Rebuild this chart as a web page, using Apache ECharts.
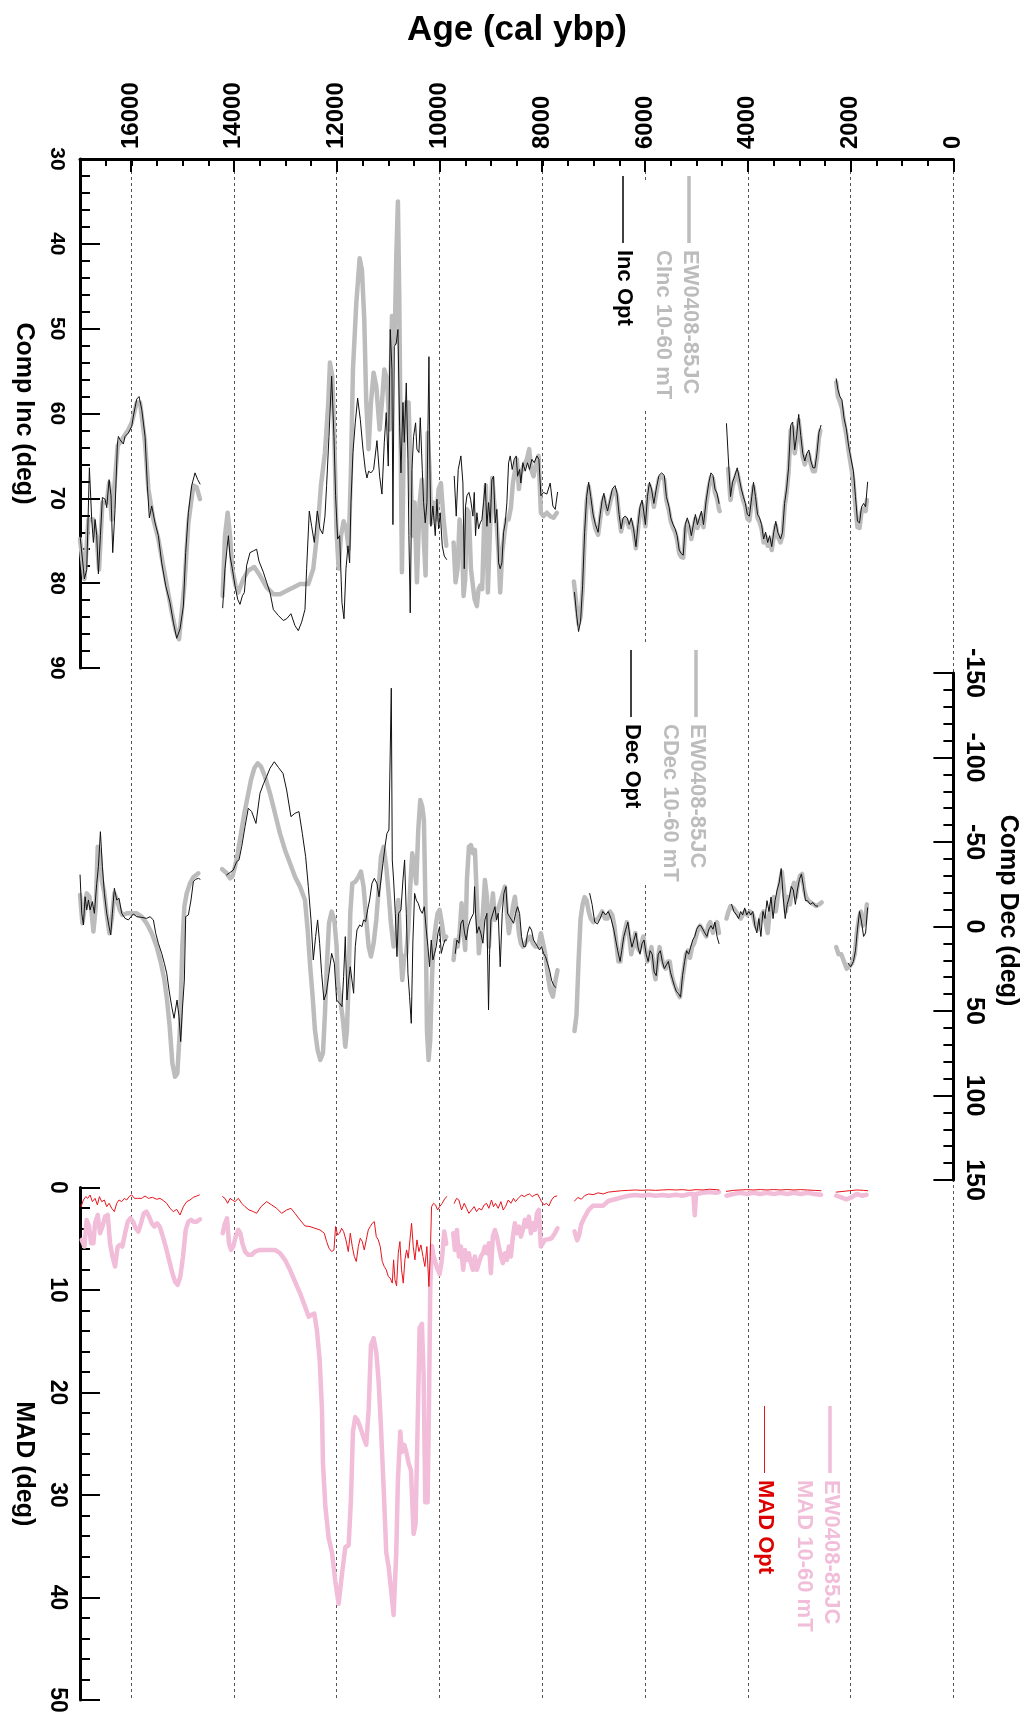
<!DOCTYPE html>
<html>
<head>
<meta charset="utf-8">
<script src="https://cdn.jsdelivr.net/npm/echarts@6/dist/echarts.min.js"></script>
<style>
html,body{margin:0;padding:0;background:#fff;}
#chart{width:1027px;height:1718px;}
</style>
</head>
<body>
<div id="chart"></div>
<script>
// ---------------- DATA (age in cal ybp, value) ----------------
// Inclination, EW0408-85JC CInc 10-60 mT (gray, thick) — segments
const incClean = [
 [[16999,74.8],[16914,79.5],[16836,72.5],[16739,72.5],[16674,74.8],[16629,78.4],[16564,70.5],[16480,70.5],[16434,68.2],[16383,72.5],[16266,63.8],[16058,61.9],[15993,61.1],[15896,58.7],[15831,58.7],[15734,63.4],[15669,68.9],[15572,72.5],[15475,74.8],[15345,79.1],[15215,83.4],[15137,85.6],[15073,86.6],[14969,80.3],[14891,72.9],[14794,68.5],[14729,68.7],[14664,70.1]],
 [[14223,81.5],[14178,74.4],[14126,71.7],[14080,74.4],[14035,78.4],[13970,80.3],[13918,81.1],[13821,79.5],[13724,78.5],[13607,78.1],[13497,79.1],[13367,80.5],[13237,81.3],[13108,81.3],[12978,80.9],[12848,80.5],[12718,80.1],[12556,80.1],[12459,78.3],[12375,73.6],[12310,68.5],[12232,64.6],[12167,58.7],[12135,54.0],[12090,55.6],[12050,62.7],[12010,73.5],[11966,78.3],[11920,74.4],[11869,72.7],[11817,73.6],[11771,76.0],[11726,66.6],[11687,54.8],[11622,47.0],[11557,41.7],[11512,43.1],[11467,48.9],[11428,58.7],[11382,64.2],[11337,58.7],[11285,55.2],[11233,56.8],[11168,61.9],[11123,58.7],[11077,54.8],[11026,56.0],[10974,61.9],[10928,48.5],[10876,51.7],[10844,41.5],[10812,35.0],[10786,46.2],[10766,58.7],[10734,78.7],[10701,64.6],[10656,58.7],[10604,58.7],[10572,65.8],[10526,74.4],[10487,70.5],[10442,79.9],[10390,70.5],[10345,67.8],[10312,74.4],[10273,79.1],[10234,62.3],[10196,66.6],[10163,72.9],[10118,70.5],[10066,72.5],[10020,68.9],[9975,68.2],[9923,72.5],[9871,75.6]],
 [[9729,75.2],[9690,79.9],[9651,78.3],[9612,72.5],[9566,74.4],[9534,81.5],[9502,79.5],[9469,71.3],[9430,71.7],[9391,78.3],[9352,80.3],[9320,81.9],[9275,82.7],[9242,80.7],[9210,80.3],[9171,80.7],[9132,72.5],[9100,68.5],[9061,81.1],[9015,72.9],[8976,67.6],[8937,70.5],[8886,73.3],[8853,76.4],[8821,81.1],[8782,76.4],[8743,74.4],[8704,72.5],[8658,72.5],[8613,71.1],[8574,68.2],[8529,66.6],[8496,65.4],[8457,68.9],[8419,67.0],[8367,66.2],[8302,65.4],[8256,64.2],[8218,66.6],[8172,67.4],[8120,65.8],[8075,65.0],[8029,71.7],[7978,72.1],[7913,71.7],[7848,72.1],[7783,72.3],[7718,71.7]],
 [[7388,79.8],[7336,82.6],[7296,84.8],[7257,84.0],[7217,80.8],[7178,74.6],[7138,70.4],[7099,68.6],[7059,70.2],[7013,72.3],[6967,73.6],[6915,74.3],[6875,72.4],[6836,70.6],[6803,69.9],[6770,70.9],[6731,71.8],[6685,70.6],[6639,69.4],[6586,69.0],[6547,69.8],[6507,72.2],[6468,73.9],[6428,72.8],[6389,72.4],[6350,72.7],[6310,73.4],[6271,72.8],[6225,74.0],[6179,75.9],[6139,73.6],[6100,71.5],[6060,70.7],[6028,71.9],[5995,73.3],[5955,70.3],[5916,68.5],[5876,69.3],[5830,71.0],[5784,69.4],[5732,67.7],[5679,67.4],[5627,67.8],[5587,70.2],[5535,71.5],[5502,72.7],[5456,73.5],[5416,74.0],[5377,74.9],[5337,76.5],[5298,76.9],[5258,77.0],[5219,73.6],[5180,72.8],[5140,73.6],[5101,74.8],[5061,73.5],[5022,72.4],[4982,73.5],[4943,72.8],[4904,72.0],[4864,73.4],[4811,70.6],[4759,68.6],[4719,67.5],[4680,67.7],[4641,69.3],[4601,70.0],[4562,71.3],[4548,71.5]],
 [[4385,66.5],[4338,70.2],[4299,68.6],[4253,67.7],[4207,66.9],[4167,68.1],[4128,69.3],[4088,70.3],[4049,71.0],[4010,72.4],[3970,72.6],[3924,70.3],[3891,68.6],[3852,70.2],[3812,72.3],[3773,72.8],[3733,73.6],[3694,75.2],[3655,74.5],[3615,75.6],[3576,74.9],[3536,76.1],[3497,74.5],[3457,73.2],[3418,74.5],[3365,75.2],[3326,74.4],[3286,71.0],[3247,69.3],[3208,66.9],[3168,62.0],[3129,61.6],[3089,64.7],[3050,63.1],[3011,60.8],[2971,63.0],[2932,65.1],[2892,66.0],[2853,65.1],[2813,64.8],[2774,66.0],[2734,66.8],[2695,66.8],[2656,65.2],[2616,62.8],[2590,62.0]],
 [[2281,56.3],[2248,58.0],[2209,58.6],[2169,59.4],[2130,61.0],[2084,62.5],[2038,64.5],[1985,66.5],[1946,68.0],[1906,71.0],[1867,73.4],[1827,73.5],[1788,71.6],[1748,71.2],[1709,71.5],[1683,70.2]]
];
// Inclination, Inc Opt (black, thin)
const incOpt = [
 [[16999,74.4],[16914,79.5],[16869,78.4],[16817,66.4],[16772,72.5],[16739,75.2],[16707,72.5],[16674,74.4],[16642,78.9],[16603,74.4],[16564,69.9],[16512,70.1],[16480,71.1],[16434,67.8],[16396,69.7],[16363,76.4],[16318,71.3],[16272,63.6],[16253,62.7],[16220,63.1],[16188,62.9],[16156,63.6],[16123,62.7],[16058,62.3],[15993,61.5],[15961,60.3],[15896,58.3],[15851,58.0],[15799,59.5],[15734,62.7],[15689,68.5],[15650,72.3],[15604,70.9],[15539,72.9],[15475,74.4],[15410,77.6],[15332,80.3],[15248,82.3],[15183,84.6],[15118,86.5],[15053,85.4],[14988,82.7],[14943,76.4],[14891,71.7],[14826,68.5],[14761,67.0],[14709,67.8],[14664,68.3]],
 [[14223,82.9],[14178,78.3],[14113,74.4],[14080,76.8],[14035,78.3],[13983,80.3],[13931,81.9],[13886,82.5],[13840,81.5],[13801,81.1],[13756,77.9],[13691,76.4],[13626,76.2],[13562,76.0],[13516,77.4],[13432,78.7],[13367,79.9],[13302,81.1],[13237,83.1],[13140,83.8],[13043,84.4],[12978,84.2],[12894,83.6],[12816,85.0],[12751,85.6],[12686,84.6],[12621,83.1],[12589,78.3],[12537,71.5],[12491,73.3],[12440,75.2],[12381,71.5],[12329,73.6],[12277,74.2],[12232,72.1],[12200,68.5],[12154,62.7],[12102,55.6],[12057,62.7],[12025,69.7],[11985,74.8],[11946,74.4],[11901,82.3],[11862,84.2],[11823,78.3],[11784,75.6],[11752,77.6],[11726,70.5],[11687,64.6],[11642,61.1],[11596,58.2],[11544,60.7],[11492,64.2],[11447,66.6],[11415,67.6],[11382,66.8],[11337,67.0],[11285,66.6],[11220,63.2],[11168,67.4],[11123,69.5],[11077,63.4],[11039,59.9],[11000,66.2],[10961,50.1],[10928,54.8],[10909,73.1],[10883,52.1],[10844,51.7],[10812,50.1],[10779,61.5],[10753,67.0],[10714,58.7],[10688,63.4],[10649,56.4],[10617,65.4],[10598,74.4],[10572,83.5],[10539,66.6],[10507,62.7],[10468,61.1],[10442,64.2],[10403,64.6],[10377,60.5],[10338,66.6],[10312,70.5],[10280,72.9],[10247,70.5],[10208,53.3],[10189,66.6],[10170,73.3],[10131,70.9],[10085,74.4],[10053,70.1],[10020,73.6],[9988,71.7],[9949,75.6],[9910,76.8],[9865,77.2]],
 [[9716,67.4],[9677,72.1],[9638,66.6],[9586,65.0],[9547,68.2],[9521,78.3],[9495,70.9],[9469,69.7],[9430,69.3],[9398,70.1],[9352,72.1],[9326,69.3],[9301,74.4],[9275,71.7],[9242,73.6],[9210,72.9],[9177,72.5],[9145,70.5],[9112,68.2],[9080,73.3],[9048,70.5],[9015,72.9],[8983,67.8],[8950,67.4],[8918,72.9],[8886,71.3],[8853,77.6],[8821,78.3],[8788,77.6],[8756,74.0],[8723,72.9],[8691,70.5],[8658,65.8],[8626,65.0],[8587,66.6],[8548,65.4],[8509,65.0],[8483,67.4],[8444,66.6],[8419,68.2],[8380,65.8],[8334,66.8],[8289,65.8],[8250,66.6],[8205,65.4],[8159,65.8],[8107,65.0],[8068,65.4],[8029,69.7],[7978,69.3],[7913,69.5],[7848,68.2],[7796,70.9],[7750,71.3],[7705,69.3]],
 [[7375,81.1],[7336,83.6],[7296,85.7],[7257,84.5],[7217,80.3],[7178,74.0],[7138,69.8],[7099,68.1],[7059,69.8],[7013,71.9],[6967,73.1],[6915,74.0],[6875,71.9],[6836,70.2],[6803,69.4],[6770,70.6],[6731,71.5],[6685,70.2],[6639,68.9],[6586,68.5],[6547,69.4],[6507,71.9],[6468,73.6],[6428,72.3],[6389,72.1],[6350,72.3],[6310,73.1],[6271,72.3],[6225,73.6],[6179,75.7],[6139,73.1],[6100,71.0],[6060,70.2],[6028,71.5],[5995,73.1],[5955,69.8],[5916,68.1],[5876,68.9],[5830,70.6],[5784,68.9],[5732,67.3],[5679,67.0],[5627,67.3],[5587,69.8],[5535,71.0],[5502,72.3],[5456,73.1],[5416,73.6],[5377,74.4],[5337,76.1],[5298,76.5],[5258,76.7],[5219,73.1],[5180,72.3],[5140,73.1],[5101,74.4],[5061,73.1],[5022,71.9],[4982,73.1],[4943,72.3],[4904,71.5],[4864,73.1],[4811,70.2],[4759,68.1],[4719,67.0],[4680,67.3],[4641,68.9],[4601,69.4],[4562,70.6]],
 [[4417,61.2],[4378,65.6],[4338,69.8],[4299,68.1],[4253,67.3],[4207,66.4],[4167,67.7],[4128,68.9],[4088,69.8],[4049,70.6],[4010,71.9],[3970,72.1],[3924,69.8],[3891,68.1],[3852,69.8],[3812,71.9],[3773,72.3],[3733,73.1],[3694,74.8],[3655,74.0],[3615,75.2],[3576,74.4],[3536,75.7],[3497,74.0],[3457,72.7],[3418,74.0],[3365,74.8],[3326,74.0],[3286,70.6],[3247,68.9],[3208,66.4],[3168,61.4],[3129,61.0],[3089,64.3],[3050,62.6],[3011,60.1],[2971,62.6],[2932,64.7],[2892,65.6],[2853,64.7],[2813,64.3],[2774,65.6],[2734,66.4],[2695,66.4],[2656,64.7],[2616,62.2],[2577,61.4]],
 [[2281,55.9],[2248,57.2],[2209,58.0],[2169,58.4],[2130,60.5],[2084,61.8],[2038,63.9],[1985,65.6],[1946,66.8],[1906,69.8],[1867,72.7],[1827,72.9],[1788,71.0],[1748,70.6],[1709,71.0],[1670,68.1]]
];
// Declination, EW0408-85JC CDec 10-60 mT (gray, thick)
const decClean = [
 [[16999,-18.6],[16953,-1.9],[16914,-9.8],[16869,-19.6],[16817,-17.6],[16772,-7.8],[16739,3.0],[16694,-11.7],[16655,-47.2],[16616,-43.3],[16577,-27.5],[16525,-19.6],[16473,-5.8],[16428,4.0],[16383,-3.9],[16331,-19.6],[16279,-15.7],[16227,-9.8],[16175,-6.8],[16091,-7.8],[15993,-7.8],[15896,-7.8],[15799,-5.8],[15702,-1.9],[15604,4.0],[15507,11.9],[15423,21.8],[15358,31.7],[15306,43.5],[15254,59.3],[15202,81.0],[15150,88.9],[15105,86.9],[15053,59.3],[15008,11.9],[14969,-11.7],[14923,-19.6],[14859,-25.5],[14794,-29.1],[14696,-31.5]],
 [[14235,-34.0],[14210,-33.4],[14145,-31.5],[14080,-28.5],[14035,-29.5],[13983,-35.4],[13931,-43.3],[13866,-55.1],[13801,-67.0],[13737,-76.8],[13672,-86.7],[13607,-93.6],[13542,-96.6],[13477,-94.6],[13399,-88.7],[13302,-78.8],[13205,-67.0],[13108,-55.1],[13010,-45.3],[12913,-37.4],[12816,-29.5],[12718,-23.6],[12621,-15.7],[12569,2.1],[12524,21.8],[12472,41.5],[12427,61.3],[12375,73.1],[12323,79.0],[12271,75.0],[12232,51.4],[12193,21.8],[12154,-1.9],[12102,-8.8],[12050,-3.9],[12005,11.9],[11985,31.7],[11933,43.5],[11882,55.3],[11836,71.1],[11804,61.3],[11771,31.7],[11739,-7.8],[11700,-25.5],[11642,-26.5],[11577,-29.5],[11531,-32.5],[11480,-23.6],[11428,-3.9],[11382,11.9],[11337,17.8],[11285,9.9],[11233,-3.9],[11188,-21.6],[11142,-41.3],[11090,-47.2],[11039,-35.4],[10993,-19.6],[10948,-1.9],[10896,11.9],[10844,8.0],[10805,-15.7],[10766,11.9],[10727,31.7],[10688,17.8],[10649,15.9],[10610,2.1],[10572,-23.6],[10533,-43.3],[10494,-35.4],[10455,-25.5],[10416,-57.1],[10377,-74.9],[10338,-70.9],[10306,-63.0],[10273,-7.8],[10247,61.3],[10215,79.0],[10183,67.2],[10150,31.7],[10118,9.9],[10079,0.1],[10040,-7.8],[10001,-9.8],[9956,-1.9],[9910,8.0],[9871,6.0]],
 [[9729,19.8],[9690,8.0],[9651,11.9],[9612,4.0],[9573,-13.7],[9534,4.0],[9502,13.9],[9469,-27.5],[9430,-47.2],[9391,-48.2],[9352,-43.3],[9313,-45.3],[9275,-15.7],[9236,15.9],[9197,4.0],[9158,-7.8],[9119,-27.5],[9080,-17.6],[9041,11.9],[9002,-7.8],[8963,-19.6],[8924,-3.9],[8886,-7.8],[8847,-11.7],[8808,-15.7],[8769,-19.6],[8730,-23.6],[8691,-7.8],[8652,4.0],[8613,-3.9],[8574,-11.7],[8535,-17.6],[8496,-7.8],[8457,4.0],[8419,9.9],[8380,11.9],[8334,9.9],[8289,8.0],[8237,6.0],[8185,9.9],[8133,11.9],[8081,11.9],[8029,4.0],[7991,4.0],[7945,15.9],[7900,27.7],[7848,37.6],[7796,41.5],[7744,31.7],[7705,25.8]],
 [[7375,61.9],[7336,52.4],[7296,20.7],[7257,-4.7],[7217,-13.1],[7178,-17.4],[7138,-15.3],[7099,-8.9],[7059,-4.7],[7013,-2.6],[6967,-3.6],[6915,-4.7],[6875,-6.8],[6836,-8.9],[6783,-4.7],[6731,-4.7],[6685,-8.9],[6639,-6.8],[6599,-0.5],[6560,10.1],[6520,20.7],[6481,20.7],[6442,10.1],[6402,3.8],[6356,-2.6],[6310,5.9],[6271,16.4],[6225,10.1],[6192,3.8],[6152,12.2],[6113,14.3],[6073,10.1],[6034,5.9],[5995,14.3],[5955,20.7],[5916,16.4],[5876,12.2],[5837,24.9],[5797,31.2],[5758,20.7],[5719,12.2],[5679,18.5],[5640,22.8],[5600,24.9],[5561,20.7],[5521,20.7],[5482,29.1],[5443,33.3],[5403,36.5],[5364,39.7],[5324,41.8],[5285,33.3],[5245,24.9],[5206,16.4],[5166,14.3],[5127,18.5],[5088,12.2],[5048,10.1],[5009,5.9],[4969,1.6],[4930,-0.5],[4890,1.6],[4851,3.8],[4811,5.9],[4772,-0.5],[4733,-2.6],[4680,3.8],[4641,-0.5],[4601,-2.6],[4562,3.8]],
 [[4417,-4.7],[4378,-8.9],[4338,-12.1],[4286,-11.0],[4233,-8.9],[4187,-6.8],[4141,-4.7],[4102,-6.8],[4056,-8.9],[4010,-6.8],[3957,-8.9],[3904,-6.8],[3852,-0.5],[3812,1.6],[3773,-2.6],[3733,-6.8],[3694,-8.9],[3655,-2.6],[3615,3.8],[3576,-8.9],[3536,-13.1],[3497,-17.4],[3457,-8.9],[3418,-17.4],[3379,-25.8],[3339,-32.2],[3300,-21.6],[3260,-8.9],[3221,-17.4],[3181,-13.1],[3142,-21.6],[3103,-25.8],[3063,-17.4],[3024,-25.8],[2984,-30.1],[2945,-31.1],[2905,-21.6],[2866,-17.4],[2826,-15.3],[2774,-14.2],[2721,-13.1],[2669,-12.1],[2610,-13.1],[2564,-14.2]],
 [[2281,12.2],[2235,16.4],[2182,16.4],[2130,20.7],[2077,24.9],[2024,23.8],[1972,21.7],[1919,16.4],[1880,3.8],[1840,-4.7],[1801,-8.9],[1762,-0.5],[1722,-2.6],[1683,-13.1]]
];
// Declination, Dec Opt (black, thin)
const decOpt = [
 [[16999,-30.5],[16966,-7.8],[16934,-0.9],[16901,-17.6],[16869,-9.8],[16836,-15.7],[16804,-9.8],[16759,-14.7],[16720,-7.8],[16674,-25.5],[16642,-35.4],[16603,-56.1],[16564,-35.4],[16525,-19.6],[16480,-7.8],[16434,0.1],[16402,5.0],[16370,-7.8],[16331,-22.6],[16285,-15.7],[16240,-16.7],[16188,-7.8],[16123,-4.8],[16058,-3.9],[16006,-5.8],[15961,-7.4],[15896,-5.8],[15799,-5.4],[15702,-4.8],[15637,-5.8],[15572,-3.9],[15526,4.0],[15475,9.9],[15410,15.9],[15358,21.8],[15312,27.7],[15267,37.6],[15215,47.4],[15170,54.3],[15111,43.5],[15073,53.4],[15040,68.1],[15008,49.4],[14969,31.7],[14943,-5.8],[14891,-6.8],[14839,-15.7],[14794,-26.5],[14748,-27.9],[14696,-28.5],[14664,-28.0]],
 [[14145,-30.5],[14015,-33.4],[13951,-38.4],[13905,-39.4],[13853,-47.2],[13788,-59.1],[13724,-70.0],[13659,-68.0],[13575,-61.0],[13497,-78.8],[13425,-84.7],[13367,-88.7],[13302,-93.6],[13218,-97.5],[13140,-94.2],[13049,-90.6],[12978,-80.8],[12894,-65.0],[12816,-67.0],[12738,-68.0],[12673,-55.1],[12608,-41.3],[12556,-23.6],[12504,-3.9],[12459,19.8],[12414,6.0],[12375,-3.9],[12336,9.9],[12297,27.7],[12252,43.5],[12206,39.5],[12154,27.7],[12102,15.9],[12050,21.8],[12005,43.5],[11946,45.5],[11901,47.4],[11869,29.7],[11836,6.0],[11804,43.5],[11771,31.7],[11739,23.8],[11707,31.7],[11674,39.5],[11642,11.9],[11609,2.1],[11557,-0.9],[11512,0.1],[11480,-3.9],[11441,-2.9],[11402,-9.8],[11363,-15.7],[11317,-25.5],[11272,-28.5],[11220,-25.5],[11181,-17.6],[11142,-27.5],[11103,-37.4],[11064,-47.2],[11026,-55.1],[10987,-57.1],[10961,-56.1],[10941,-141],[10922,-39.4],[10896,-27.5],[10863,-7.8],[10831,17.8],[10799,-7.8],[10753,-9.8],[10714,-27.5],[10682,-39.4],[10649,-7.8],[10617,27.7],[10585,41.5],[10552,57.3],[10520,8.0],[10487,-19.6],[10455,-15.7],[10416,-13.7],[10377,-9.8],[10338,-7.8],[10299,-11.7],[10260,2.1],[10228,11.9],[10196,23.8],[10163,8.0],[10131,19.8],[10098,15.9],[10066,11.9],[10033,4.0],[10001,0.1],[9968,15.9],[9936,11.9],[9897,8.0],[9865,8.0]],
 [[9696,15.9],[9664,8.0],[9625,9.9],[9586,-1.9],[9547,-3.9],[9515,4.0],[9482,8.0],[9443,0.1],[9404,-3.9],[9372,-3.9],[9339,-7.8],[9320,-23.6],[9301,-7.8],[9275,4.0],[9236,0.1],[9197,4.0],[9158,9.9],[9119,-3.9],[9080,-7.8],[9048,49.4],[9028,15.9],[9002,-3.9],[8963,-7.8],[8924,-11.7],[8892,-3.9],[8860,-7.8],[8821,23.8],[8782,-7.8],[8749,-19.6],[8710,-23.6],[8678,-7.8],[8639,-5.8],[8600,-3.9],[8561,-1.9],[8522,-7.8],[8483,-11.7],[8444,-7.8],[8406,6.0],[8367,11.9],[8328,11.9],[8289,4.0],[8250,0.1],[8211,2.1],[8172,8.0],[8133,9.9],[8094,11.9],[8055,13.9],[8017,11.9],[7978,15.9],[7939,17.8],[7900,21.8],[7861,25.8],[7822,31.7],[7783,34.6],[7744,36.0]],
 [[7079,-19.5],[7033,-13.1],[6981,-2.6],[6928,-1.5],[6875,-4.7],[6823,-8.9],[6770,-6.8],[6718,-8.9],[6665,-4.7],[6612,1.6],[6573,8.0],[6534,14.3],[6488,20.7],[6455,14.3],[6415,5.9],[6376,1.6],[6336,-2.6],[6297,5.9],[6257,12.2],[6218,8.0],[6179,3.8],[6139,12.2],[6100,16.4],[6060,10.1],[6021,8.0],[5981,16.4],[5942,20.7],[5903,14.3],[5863,16.4],[5824,27.0],[5784,29.1],[5745,16.4],[5705,14.3],[5666,20.7],[5627,24.9],[5587,22.8],[5548,20.7],[5508,27.0],[5469,31.2],[5429,35.4],[5390,38.6],[5350,39.7],[5311,41.8],[5272,29.1],[5232,20.7],[5193,14.3],[5153,16.4],[5114,12.2],[5074,8.0],[5035,5.9],[4996,1.6],[4956,-0.5],[4917,-0.5],[4877,1.6],[4838,3.8],[4798,5.9],[4759,1.6],[4719,-0.5],[4680,1.6],[4641,-2.6],[4601,5.9],[4562,10.1]],
 [[4318,-13.1],[4272,-8.9],[4220,-6.8],[4181,-4.7],[4141,-8.9],[4102,-6.8],[4062,-11.0],[4023,-6.8],[3983,-8.9],[3944,-6.8],[3904,-8.9],[3865,-0.5],[3826,3.8],[3786,-4.7],[3747,5.9],[3707,-8.9],[3668,-4.7],[3628,-15.3],[3589,-8.9],[3550,-17.4],[3510,-4.7],[3471,-15.3],[3431,-21.6],[3392,-25.8],[3352,-34.3],[3313,-17.4],[3274,-4.7],[3234,-13.1],[3194,-17.4],[3155,-23.7],[3116,-21.6],[3076,-13.1],[3037,-21.6],[2997,-27.9],[2958,-31.1],[2918,-23.7],[2879,-15.3],[2840,-15.3],[2787,-13.1],[2734,-14.2],[2682,-12.1],[2643,-12.1]],
 [[2051,21.7],[1998,23.8],[1946,20.7],[1906,14.3],[1867,1.6],[1827,-8.9],[1788,-2.6],[1748,5.9],[1709,3.8],[1670,-11.0]]
];
// MAD, EW0408-85JC MAD 10-60 mT (pink, thick)
const madClean = [
 [[16966,5.11],[16914,5.76],[16869,3.16],[16823,3.81],[16785,5.44],[16739,5.44],[16707,3.49],[16655,2.68],[16610,4.46],[16564,3.81],[16512,2.84],[16460,2.68],[16415,5.44],[16370,6.73],[16318,7.71],[16266,5.76],[16220,5.60],[16175,5.76],[16123,4.46],[16071,3.33],[16019,3.00],[15967,3.33],[15916,3.98],[15864,4.30],[15812,3.49],[15760,2.52],[15708,2.35],[15656,2.84],[15604,3.49],[15552,3.81],[15501,3.49],[15449,3.81],[15397,4.63],[15332,5.76],[15267,7.06],[15202,8.36],[15150,9.17],[15099,9.49],[15047,8.68],[14995,6.73],[14943,4.14],[14891,3.33],[14839,3.16],[14787,3.33],[14729,3.33],[14664,3.10]],
 [[14223,4.46],[14178,3.49],[14139,3.00],[14100,5.44],[14061,6.09],[14016,5.76],[13970,4.79],[13918,4.14],[13879,4.46],[13840,5.44],[13788,6.25],[13724,6.57],[13659,6.57],[13594,6.25],[13497,6.09],[13399,6.09],[13302,6.09],[13205,6.09],[13108,6.41],[13010,7.06],[12913,8.03],[12816,9.17],[12718,10.3],[12621,11.6],[12549,12.6],[12485,12.4],[12439,12.3],[12387,14.0],[12335,16.8],[12290,21.7],[12271,26.9],[12225,31.1],[12160,34.2],[12095,35.6],[12031,38.4],[11966,40.6],[11901,37.7],[11836,35.1],[11771,34.9],[11726,30.4],[11687,23.8],[11642,22.4],[11596,22.7],[11544,23.4],[11480,24.4],[11428,25.1],[11382,21.7],[11337,15.4],[11285,14.7],[11233,16.1],[11188,18.9],[11142,23.4],[11090,29.3],[11039,35.6],[10993,37.0],[10948,39.1],[10896,41.7],[10844,35.6],[10812,28.6],[10766,23.8],[10734,25.8],[10688,25.1],[10649,25.8],[10604,26.9],[10558,27.6],[10507,33.8],[10468,32.8],[10429,23.4],[10390,13.7],[10345,13.3],[10312,18.2],[10280,30.7],[10234,30.7],[10208,21.7],[10182,9.5],[10150,5.7],[10118,6.7],[10053,7.8],[10001,8.45],[9956,7.06],[9910,4.3],[9871,5.5]],
 [[9735,4.46],[9703,6.09],[9664,4.14],[9625,6.73],[9586,5.76],[9541,8.03],[9508,6.09],[9470,7.06],[9431,6.41],[9392,7.38],[9353,8.03],[9314,6.73],[9275,8.03],[9236,7.38],[9197,6.73],[9158,6.41],[9119,5.76],[9080,6.41],[9042,5.44],[9003,8.36],[8964,4.79],[8925,4.14],[8886,4.79],[8847,5.76],[8808,6.73],[8769,7.38],[8730,6.41],[8691,7.06],[8652,5.76],[8613,6.73],[8574,4.79],[8536,3.49],[8497,4.46],[8458,3.81],[8419,4.79],[8380,4.14],[8341,3.16],[8302,3.81],[8263,2.84],[8224,4.46],[8185,3.49],[8146,4.14],[8107,2.52],[8069,2.19],[8030,5.76],[7991,5.44],[7952,5.11],[7887,5.05],[7822,4.95],[7757,4.46],[7706,3.98]],
 [[7375,4.28],[7322,5.15],[7283,4.62],[7243,3.58],[7178,2.89],[7099,2.19],[7013,1.77],[6915,1.77],[6816,1.77],[6718,1.32],[6586,1.15],[6455,0.97],[6323,0.80],[6192,0.73],[6060,0.80],[5929,0.70],[5797,0.80],[5666,0.73],[5535,0.80],[5403,0.70],[5272,0.80],[5140,0.63],[5061,0.63],[5035,2.71],[5009,0.63],[4877,0.52],[4746,0.45],[4614,0.52],[4562,0.45]],
 [[4417,0.80],[4286,0.63],[4154,0.52],[4023,0.63],[3891,0.52],[3760,0.63],[3628,0.52],[3497,0.63],[3365,0.52],[3234,0.63],[3102,0.52],[2971,0.63],[2840,0.52],[2708,0.63],[2577,0.70]],
 [[2281,0.80],[2182,0.97],[2084,1.15],[1985,0.97],[1880,0.63],[1788,0.80],[1690,0.70]]
];
// MAD, MAD Opt (red, thin)
const madOpt = [
 [[16979,1.87],[16934,1.22],[16888,0.89],[16849,1.06],[16804,0.73],[16759,1.38],[16707,1.06],[16661,1.70],[16622,0.89],[16577,1.38],[16525,1.22],[16480,1.87],[16434,1.54],[16383,2.03],[16331,2.35],[16285,1.54],[16240,1.22],[16188,1.38],[16136,1.06],[16091,1.22],[16045,0.89],[15993,0.73],[15941,1.06],[15877,1.06],[15799,1.06],[15734,0.83],[15669,1.06],[15591,0.96],[15507,1.15],[15442,1.06],[15377,1.28],[15312,1.54],[15248,2.03],[15183,2.35],[15118,2.13],[15053,2.68],[14988,1.87],[14923,1.38],[14859,1.22],[14794,0.96],[14729,0.83],[14677,0.73]],
 [[14223,0.89],[14178,1.06],[14126,1.54],[14080,1.06],[14035,1.22],[13983,1.38],[13918,1.06],[13853,1.54],[13788,1.87],[13711,2.19],[13626,2.35],[13562,2.52],[13477,1.87],[13367,1.38],[13270,1.70],[13172,2.03],[13075,2.52],[12978,2.19],[12894,2.03],[12816,2.52],[12718,3.16],[12621,3.75],[12524,3.81],[12427,3.98],[12329,4.14],[12245,4.46],[12200,5.27],[12154,5.92],[12102,6.25],[12057,6.09],[12025,3.81],[11986,4.63],[11947,4.46],[11908,3.98],[11869,4.30],[11824,5.11],[11778,6.25],[11739,4.46],[11700,5.76],[11661,6.73],[11622,7.22],[11583,5.76],[11545,4.95],[11506,5.27],[11467,6.09],[11428,5.11],[11389,4.14],[11350,3.81],[11311,3.49],[11272,3.33],[11233,4.79],[11194,5.11],[11156,5.76],[11117,7.22],[11078,7.71],[11039,8.03],[11000,8.68],[10961,8.84],[10922,9.33],[10896,7.06],[10870,9.01],[10838,9.59],[10805,6.41],[10773,5.27],[10741,8.03],[10708,9.33],[10676,7.06],[10643,6.09],[10611,6.90],[10578,5.11],[10546,3.49],[10514,5.76],[10481,7.06],[10442,5.11],[10403,6.25],[10364,5.60],[10325,6.73],[10287,7.71],[10248,5.76],[10209,9.66],[10183,6.73],[10157,1.87],[10118,1.54],[10079,1.70],[10040,2.19],[10001,1.87],[9950,1.54],[9897,1.06],[9859,0.89]],
 [[9716,1.54],[9670,1.06],[9625,1.22],[9573,2.19],[9521,1.54],[9476,2.03],[9431,2.52],[9379,2.19],[9327,1.87],[9282,2.35],[9236,2.03],[9184,2.19],[9132,1.70],[9087,1.54],[9042,2.03],[8990,1.22],[8951,1.87],[8912,1.54],[8860,2.03],[8808,1.38],[8763,2.19],[8718,1.87],[8665,1.22],[8613,1.54],[8562,1.06],[8523,1.38],[8471,1.06],[8406,0.73],[8354,0.89],[8302,0.73],[8250,0.63],[8198,0.89],[8146,0.73],[8095,0.63],[8049,1.06],[8017,1.38],[7965,1.70],[7920,1.54],[7874,1.80],[7822,1.22],[7770,0.89],[7719,0.83]],
 [[7375,1.32],[7309,0.97],[7243,1.15],[7178,0.80],[7099,0.63],[7013,0.70],[6915,0.52],[6816,0.63],[6718,0.45],[6586,0.38],[6455,0.31],[6323,0.28],[6192,0.24],[6060,0.28],[5929,0.24],[5797,0.28],[5666,0.24],[5535,0.21],[5403,0.24],[5272,0.21],[5140,0.28],[5009,0.21],[4877,0.24],[4746,0.17],[4614,0.21],[4562,0.24]],
 [[4417,0.38],[4286,0.28],[4154,0.24],[4023,0.21],[3891,0.24],[3760,0.20],[3628,0.24],[3497,0.20],[3365,0.24],[3234,0.20],[3102,0.24],[2971,0.21],[2840,0.24],[2708,0.28],[2577,0.31]],
 [[2281,0.45],[2149,0.38],[2018,0.31],[1880,0.24],[1748,0.28],[1670,0.31]]
];

// ---------------- CHART ----------------
const FONT = "'Liberation Sans', Arial, Helvetica, sans-serif";
const AGE_MAX = 17000;
const chart = echarts.init(document.getElementById('chart'), null, {renderer: 'canvas'});

const GRAY = '#bcbcbc', PINK = '#f1bdd9', RED = '#e8141c';

function segSeries(segs, axisIdx, color, width, z) {
  return segs.map(s => ({
    type: 'line', xAxisIndex: axisIdx, yAxisIndex: axisIdx, data: s,
    symbol: 'none', showSymbol: false, silent: true, animation: false, z: z,
    lineStyle: {color: color, width: width, join: 'round', cap: 'round'}
  }));
}

const blackTick = {color: '#000', width: 2};
const lblStyle = (size, margin) => ({rotate: -90, fontSize: size, fontWeight: 'bold', color: '#000', fontFamily: FONT, margin: margin, formatter: v => String(v)});
const nameStyle = (pad) => ({fontSize: 25, fontWeight: 'bold', color: '#000', fontFamily: FONT, padding: pad});
const axisLineStyle = {show: true, onZero: false, lineStyle: {color: '#000', width: 3}};

const hiddenX = (g) => ({gridIndex: g, type: 'value', min: 0, max: AGE_MAX, inverse: true, show: false});

function legendGroup(x, y, stroke, lw, lines, color, box) {
  const children = [];
  if (box) children.push({type: 'rect', z: 100, shape: box, style: {fill: '#fff'}});
  children.push({type: 'line', z: 101, shape: {x1: 0, y1: 0, x2: 67, y2: 0}, style: {stroke: stroke, lineWidth: lw}});
  lines.forEach((t, i) => children.push({
    type: 'text', z: 101, x: 74, y: (i === 0 ? -1 : 26),
    style: {text: t, fill: color, font: 'bold 22px ' + FONT, textAlign: 'left', textVerticalAlign: 'middle', verticalAlign: 'middle'}
  }));
  return {type: 'group', x: x, y: y, rotation: -Math.PI / 2, z: 100, children: children};
}

const option = {
  backgroundColor: '#fff',
  animation: false,
  title: {
    text: 'Age (cal ybp)', left: 512, top: 8, textAlign: 'center',
    textStyle: {fontSize: 35, fontWeight: 'bold', color: '#000', fontFamily: FONT}
  },
  grid: [
    {left: 80, top: 159, width: 873.4, height: 509, outerBoundsMode: 'none'},
    {left: 80, top: 673, width: 873.4, height: 507, outerBoundsMode: 'none'},
    {left: 80, top: 1187.5, width: 873.4, height: 512.5, outerBoundsMode: 'none'},
    {left: 131, top: 159, width: 822.4, height: 1541, outerBoundsMode: 'none'},
    {left: 131, top: 159, width: 822.4, height: 20, outerBoundsMode: 'none'}
  ],
  xAxis: [
    {gridIndex: 0, type: 'value', min: 0, max: AGE_MAX, inverse: true, position: 'top', interval: 500,
     axisLine: axisLineStyle,
     axisTick: {show: true, inside: true, length: 7, lineStyle: blackTick},
     axisLabel: {show: false}, splitLine: {show: false}},
    hiddenX(1),
    hiddenX(2),
    {gridIndex: 3, type: 'value', min: 0, max: 16000, inverse: true, interval: 2000,
     axisLine: {show: false, onZero: false}, axisTick: {show: false}, axisLabel: {show: false},
     splitLine: {show: true, lineStyle: {color: '#555', width: 1, type: [3, 3]}}},
    {gridIndex: 4, type: 'value', min: 0, max: 16000, inverse: true, position: 'top', interval: 2000,
     axisLine: {show: false, onZero: false}, axisTick: {show: true, inside: true, length: 13, lineStyle: blackTick},
     axisLabel: lblStyle(24, 10), splitLine: {show: false}}
  ],
  yAxis: [
    {gridIndex: 0, type: 'value', min: 30, max: 90, interval: 10, inverse: true, position: 'left',
     name: 'Comp Inc (deg)', nameLocation: 'middle', nameRotate: -90, nameGap: 44, nameTextStyle: nameStyle(0),
     axisLine: axisLineStyle,
     axisTick: {show: true, inside: true, length: 20, lineStyle: blackTick},
     minorTick: {show: true, splitNumber: 5, length: 10, lineStyle: blackTick},
     axisLabel: lblStyle(21, 13), splitLine: {show: false}},
    {gridIndex: 1, type: 'value', min: -150, max: 150, interval: 50, inverse: true, position: 'right',
     name: 'Comp Dec (deg)', nameLocation: 'middle', nameRotate: -90, nameGap: 42, nameTextStyle: nameStyle([0, 32, 0, 0]),
     axisLine: axisLineStyle,
     axisTick: {show: true, inside: true, length: 20, lineStyle: blackTick},
     minorTick: {show: true, splitNumber: 5, length: 10, lineStyle: blackTick},
     axisLabel: lblStyle(25, 8), splitLine: {show: false}},
    {gridIndex: 2, type: 'value', min: 0, max: 50, interval: 10, inverse: true, position: 'left',
     name: 'MAD (deg)', nameLocation: 'middle', nameRotate: -90, nameGap: 44, nameTextStyle: nameStyle([0, 0, 0, 40]),
     axisLine: axisLineStyle,
     axisTick: {show: true, inside: true, length: 20, lineStyle: blackTick},
     minorTick: {show: true, splitNumber: 5, length: 10, lineStyle: blackTick},
     axisLabel: lblStyle(23, 11), splitLine: {show: false}},
    {gridIndex: 3, type: 'value', min: 0, max: 1, show: false},
    {gridIndex: 4, type: 'value', min: 0, max: 1, show: false}
  ],
  graphic: [
    // local (u,v) -> screen (x - v, y + u)
    legendGroup(689, 176, GRAY, 3.5, ['EW0408-85JC', 'CInc 10-60 mT'], GRAY, {x: 5, y: -17, width: 230, height: 100}),
    legendGroup(623, 176, '#000', 1.5, ['Inc Opt'], '#000'),
    legendGroup(696, 650, GRAY, 3.5, ['EW0408-85JC', 'CDec 10-60 mT'], GRAY, {x: -5, y: -17, width: 238, height: 100}),
    legendGroup(631, 650, '#000', 1.5, ['Dec Opt'], '#000'),
    legendGroup(830, 1406, PINK, 3.5, ['EW0408-85JC', 'MAD 10-60 mT'], PINK),
    legendGroup(764.5, 1406, RED, 1, ['MAD Opt'], '#dd0000')
  ],
  series: [].concat(
    segSeries(incClean, 0, GRAY, 4.5, 2),
    segSeries(incOpt, 0, '#111', 1, 3),
    segSeries(decClean, 1, GRAY, 4.5, 2),
    segSeries(decOpt, 1, '#111', 1, 3),
    segSeries(madClean, 2, PINK, 4.5, 2),
    segSeries(madOpt, 2, RED, 1, 3)
  )
};
chart.setOption(option);
</script>
</body>
</html>
